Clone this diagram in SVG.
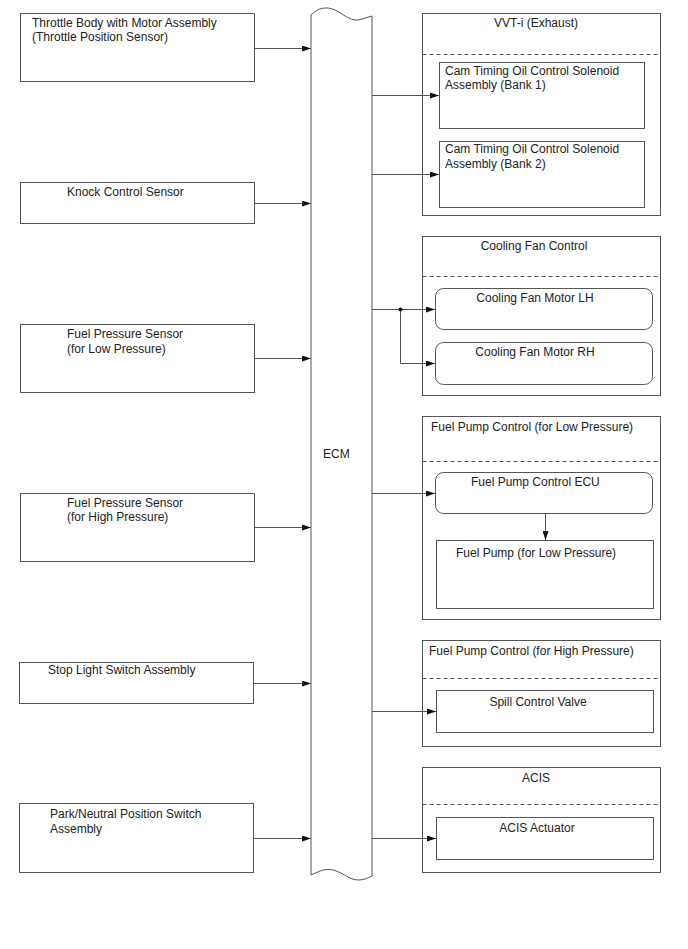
<svg xmlns="http://www.w3.org/2000/svg" width="688" height="949" viewBox="0 0 688 949">
<style>
.box{fill:#fff;stroke:#555;stroke-width:1}
.t{font-family:"Liberation Sans",Arial,sans-serif;font-size:12px;fill:#222}
.c{text-anchor:middle}
.dash{stroke:#555;stroke-width:1;stroke-dasharray:4,3;fill:none}
.ln{stroke:#555;stroke-width:1;fill:none;marker-end:url(#ah)}
</style>
<defs>
<marker id="ah" markerWidth="9" markerHeight="6" refX="9" refY="3" orient="auto" markerUnits="userSpaceOnUse">
<path d="M0,0 L9,3 L0,6 Z" fill="#111"/>
</marker>
</defs>
<rect width="688" height="949" fill="#fff"/>

<g id="ecm">
<path class="box" d="M311,15 C318,8 326,6 335,10 C345,15 352,23 362,19 L372,16 L372,876 C365,880 356,882 348,877 C338,871 330,867 320,871 L311,875 Z"/>
<text class="t" x="323" y="458">ECM</text>
</g>

<g id="throttle">
<rect class="box" x="20.5" y="13.5" width="234" height="68"/>
<text class="t" x="32" y="27">Throttle Body with Motor Assembly</text>
<text class="t" x="32" y="41">(Throttle Position Sensor)</text>
</g>
<g id="knock">
<rect class="box" x="20.5" y="182.5" width="234" height="41"/>
<text class="t" x="67" y="196">Knock Control Sensor</text>
</g>
<g id="fuel-low-sensor">
<rect class="box" x="20.5" y="324.5" width="234" height="68"/>
<text class="t" x="67" y="338">Fuel Pressure Sensor</text>
<text class="t" x="67" y="353">(for Low Pressure)</text>
</g>
<g id="fuel-high-sensor">
<rect class="box" x="20.5" y="493.5" width="234" height="68"/>
<text class="t" x="67" y="507">Fuel Pressure Sensor</text>
<text class="t" x="67" y="521">(for High Pressure)</text>
</g>
<g id="stop-light">
<rect class="box" x="19.5" y="662.5" width="234" height="41"/>
<text class="t" x="48" y="674">Stop Light Switch Assembly</text>
</g>
<g id="park-neutral">
<rect class="box" x="19.5" y="803.5" width="234" height="69"/>
<text class="t" x="50" y="818">Park/Neutral Position Switch</text>
<text class="t" x="50" y="833">Assembly</text>
</g>

<g id="vvti">
<rect class="box" x="422.5" y="13.5" width="238" height="202"/>
<text class="t c" x="536" y="27">VVT-i (Exhaust)</text>
<line class="dash" x1="422.5" y1="54.5" x2="660.5" y2="54.5"/>
</g>
<g id="cam-bank1">
<rect class="box" x="439.5" y="62.5" width="205" height="66"/>
<text class="t" x="445" y="75">Cam Timing Oil Control Solenoid</text>
<text class="t" x="445" y="89">Assembly (Bank 1)</text>
</g>
<g id="cam-bank2">
<rect class="box" x="439.5" y="141.5" width="205" height="66"/>
<text class="t" x="445" y="153">Cam Timing Oil Control Solenoid</text>
<text class="t" x="445" y="168">Assembly (Bank 2)</text>
</g>

<g id="cooling-fan">
<rect class="box" x="422.5" y="236.5" width="238" height="159"/>
<text class="t c" x="534" y="250">Cooling Fan Control</text>
<line class="dash" x1="422.5" y1="276.5" x2="660.5" y2="276.5"/>
</g>
<g id="fan-lh">
<rect class="box" x="435.5" y="288.5" width="217" height="41" rx="8"/>
<text class="t c" x="535" y="302">Cooling Fan Motor LH</text>
</g>
<g id="fan-rh">
<rect class="box" x="435.5" y="342.5" width="217" height="42" rx="8"/>
<text class="t c" x="535" y="356">Cooling Fan Motor RH</text>
</g>

<g id="fuel-pump-low">
<rect class="box" x="422.5" y="416.5" width="238" height="203"/>
<text class="t" x="431" y="431">Fuel Pump Control (for Low Pressure)</text>
<line class="dash" x1="422.5" y1="461.5" x2="660.5" y2="461.5"/>
</g>
<g id="fuel-pump-ecu">
<rect class="box" x="435.5" y="472.5" width="217" height="41" rx="8"/>
<text class="t" x="471" y="486">Fuel Pump Control ECU</text>
</g>
<g id="fuel-pump">
<rect class="box" x="436.5" y="540.5" width="217" height="68"/>
<text class="t" x="456" y="557">Fuel Pump (for Low Pressure)</text>
</g>

<g id="fuel-pump-high">
<rect class="box" x="422.5" y="640.5" width="238" height="106"/>
<text class="t" x="429" y="655">Fuel Pump Control (for High Pressure)</text>
<line class="dash" x1="422.5" y1="678.5" x2="660.5" y2="678.5"/>
</g>
<g id="spill-valve">
<rect class="box" x="436.5" y="690.5" width="217" height="42"/>
<text class="t c" x="538" y="706">Spill Control Valve</text>
</g>

<g id="acis">
<rect class="box" x="422.5" y="767.5" width="238" height="105"/>
<text class="t c" x="536" y="782">ACIS</text>
<line class="dash" x1="422.5" y1="804.5" x2="660.5" y2="804.5"/>
</g>
<g id="acis-actuator">
<rect class="box" x="436.5" y="817.5" width="217" height="42"/>
<text class="t c" x="537" y="832">ACIS Actuator</text>
</g>

<g id="connectors">
<line class="ln" x1="254.5" y1="48.5" x2="311" y2="48.5"/>
<line class="ln" x1="254.5" y1="203.5" x2="311" y2="203.5"/>
<line class="ln" x1="254.5" y1="358.5" x2="311" y2="358.5"/>
<line class="ln" x1="254.5" y1="527.5" x2="311" y2="527.5"/>
<line class="ln" x1="253.5" y1="683.5" x2="311" y2="683.5"/>
<line class="ln" x1="253.5" y1="838.5" x2="311" y2="838.5"/>
<line class="ln" x1="372" y1="95.5" x2="439" y2="95.5"/>
<line class="ln" x1="372" y1="174.5" x2="439" y2="174.5"/>
<line class="ln" x1="372" y1="309.5" x2="435" y2="309.5"/>
<polyline class="ln" points="400.5,309.5 400.5,363.5 435,363.5"/>
<circle cx="400.5" cy="309.5" r="2" fill="#111"/>
<line class="ln" x1="372" y1="493.5" x2="435" y2="493.5"/>
<line class="ln" x1="545.5" y1="513.5" x2="545.5" y2="540"/>
<line class="ln" x1="372" y1="711.5" x2="436" y2="711.5"/>
<line class="ln" x1="372" y1="838.5" x2="436" y2="838.5"/>
</g>
</svg>
